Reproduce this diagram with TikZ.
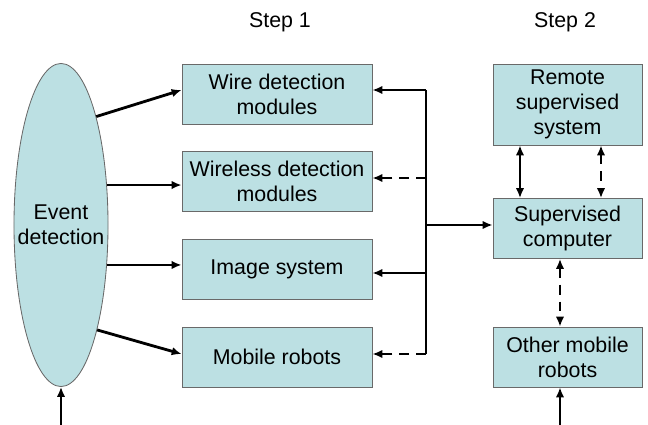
\documentclass[tikz,border=0pt]{standalone}
\usepackage{fontspec}
\setmainfont{Liberation Sans}
\usetikzlibrary{arrows.meta,shapes.geometric}
\definecolor{boxfill}{RGB}{188,224,227}
\definecolor{boxline}{RGB}{105,105,105}
\tikzset{
	txt/.style={font=\fontsize{15.2}{17.8}\selectfont,align=center},
	blk/.style={txt,draw=boxline,fill=boxfill,line width=0.6pt,inner sep=0pt},
	blka/.style={blk,minimum width=4.75cm,minimum height=1.5cm},
	blkb/.style={blk,minimum width=3.725cm,minimum height=1.5cm},
	lnk/.style={line width=2pt,-{Latex[length=7pt,width=6pt]}},
	dlnk/.style={lnk,dash pattern=on 7pt off 5pt},
	bilnk/.style={line width=2pt,{Latex[length=7pt,width=6pt]}-{Latex[length=7pt,width=6pt]}},
}
\begin{document}
\begin{tikzpicture}[x=0.025cm,y=-0.025cm]
	\useasboundingbox (0,0) rectangle (648,425);
	\node[txt] (st1) at (280,22) {Step 1};
	\node[txt] (st2) at (565,22) {Step 2};
	\node[blk,ellipse,minimum width=2.35cm,minimum height=8.075cm] (ev) at (61,225) {};
	\node[txt] (evt) at (ev.center) {Event\\detection};
	\node[blka] (wire) at (277,94) {Wire detection\\modules};
	\node[blka] (wless) at (277,181.5) {Wireless detection\\modules};
	\node[blka] (img) at (277,269.5) {Image system};
	\node[blka] (mob) at (277,357) {Mobile robots};
	\node[blkb,minimum height=2.025cm] (rem) at (567.5,104.5) {Remote\\supervised\\system};
	\node[blkb] (sup) at (567.5,228.5) {Supervised\\computer};
	\node[blkb] (oth) at (567.5,357) {Other mobile\\robots};
	\coordinate (b1) at (426,90);
	\coordinate (b2) at (426,178);
	\coordinate (bc) at (426,225);
	\coordinate (b3) at (426,273);
	\coordinate (b4) at (426,354);
	\coordinate (ra) at (520,0);
	\coordinate (rb) at (601,0);
	\coordinate (rc) at (560,0);
	\coordinate (in1) at (61,425);
	\coordinate (in2) at (560,425);
	\draw[lnk] (ev.72) -- (wire.west |- b1);
	\draw[lnk] (ev.41) -- (ev.41 -| wless.west);
	\draw[lnk] (ev.-41) -- (ev.-41 -| img.west);
	\draw[lnk] (ev.-71) -- (mob.west |- b4);
	\draw[line width=2pt] (b1) -- (b4);
	\draw[lnk] (b1) -- (b1 -| wire.east);
	\draw[dlnk] (b2) -- (b2 -| wless.east);
	\draw[lnk] (b3) -- (b3 -| img.east);
	\draw[dlnk] (b4) -- (b4 -| mob.east);
	\draw[lnk] (bc) -- (bc -| sup.west);
	\draw[bilnk] (rem.south -| ra) -- (sup.north -| ra);
	\draw[bilnk,dash pattern=on 7pt off 5pt] (rem.south -| rb) -- (sup.north -| rb);
	\draw[bilnk,dash pattern=on 7pt off 5pt] (sup.south -| rc) -- (oth.north -| rc);
	\draw[lnk] (in1) -- (ev.south);
	\draw[lnk] (in2) -- (oth.south -| in2);
\end{tikzpicture}
\end{document}
